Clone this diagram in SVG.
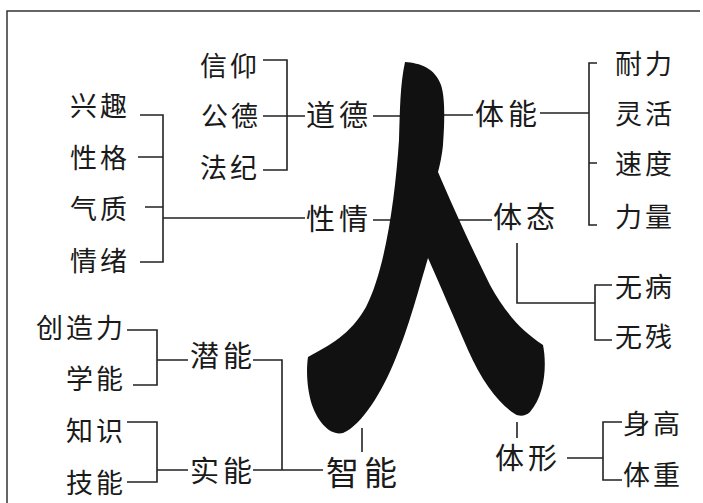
<svg xmlns="http://www.w3.org/2000/svg" width="703" height="503" viewBox="0 0 703 503">
<style>
text{font-family:"Noto Sans CJK SC","Noto Sans",sans-serif;fill:#1a1a1a}
.s{font-size:27px;letter-spacing:3px}
.m{font-size:29px;letter-spacing:4px}
.l{font-size:33px;letter-spacing:5px}
.c{fill:none;stroke:#222;stroke-width:1.6}
.frame{fill:none;stroke:#333;stroke-width:1.5}
</style>
<rect width="703" height="503" fill="#fff"/>
<path class="frame" d="M700,11 H7 V503"/>
<g id="connectors">
<path class="c" d="M263,60 H287 V170 H263 M263,116 H305 M373,116 H402"/>
<path class="c" d="M140,115 H163 V262 H140 M138,157 H163 M145,207 H163 M163,218 H305 M373,220 H394"/>
<path class="c" d="M440,115 H473 M540,113 H589 M597,63 H589 V225 H597 M589,163 H597"/>
<path class="c" d="M455,220 H492 M517,243 V303 H595 M612,285 H595 V340 H612"/>
<path class="c" d="M362,428 V452 M517,422 V438 M567,458 H603 M622,422 H603 V480 H622"/>
<path class="c" d="M127,330 H157 V385 H133 M157,360 H188 M253,360 H282 V470 M253,470 H323"/>
<path class="c" d="M127,422 H157 V482 H127 M157,470 H188"/>
</g>
<g id="ren">
<path fill="#111" d="M405,62 C420,63 435,68 441,85 C446,100 444,130 443,145 C442,155 440,165 438,172 C450,200 470,245 490,285 C505,312 520,330 543,345 C547,365 545,395 530,412 C525,417 518,416 515,414 C500,405 482,382 468,350 C455,320 440,285 428,258 C420,285 408,330 395,360 C382,392 362,425 343,433 C330,436 318,422 312,405 C307,390 306,370 308,357 C330,345 350,335 366,307 C385,270 395,200 399,140 C400,110 400,85 405,62 Z"/>
</g>
<g id="daode"><text class="m" x="306" y="126">道德</text></g>
<g id="xinyang"><text class="s" x="200" y="76">信仰</text></g>
<g id="gongde"><text class="s" x="201" y="126">公德</text></g>
<g id="faji"><text class="s" x="200" y="178">法纪</text></g>
<g id="xingqing"><text class="m" x="306" y="230">性情</text></g>
<g id="xingqu"><text class="s" x="70" y="116">兴趣</text></g>
<g id="xingge"><text class="s" x="70" y="168">性格</text></g>
<g id="qizhi"><text class="s" x="70" y="219">气质</text></g>
<g id="qingxu"><text class="s" x="70" y="271">情绪</text></g>
<g id="tineng"><text class="m" x="475" y="125">体能</text></g>
<g id="naili"><text class="s" x="615" y="74">耐力</text></g>
<g id="linghuo"><text class="s" x="615" y="124">灵活</text></g>
<g id="sudu"><text class="s" x="615" y="174">速度</text></g>
<g id="liliang"><text class="s" x="615" y="227">力量</text></g>
<g id="titai"><text class="m" x="493" y="228">体态</text></g>
<g id="wubing"><text class="s" x="615" y="297">无病</text></g>
<g id="wucan"><text class="s" x="615" y="347">无残</text></g>
<g id="tixing"><text class="m" x="495" y="469">体形</text></g>
<g id="shengao"><text class="s" x="623" y="434">身高</text></g>
<g id="tizhong"><text class="s" x="623" y="485">体重</text></g>
<g id="zhineng"><text class="l" x="326" y="485">智能</text></g>
<g id="qianneng"><text class="m" x="190" y="367">潜能</text></g>
<g id="chuangzaoli"><text class="s" x="36" y="338">创造力</text></g>
<g id="xueneng"><text class="s" x="66" y="389">学能</text></g>
<g id="shineng"><text class="m" x="190" y="482">实能</text></g>
<g id="zhishi"><text class="s" x="66" y="441">知识</text></g>
<g id="jineng"><text class="s" x="66" y="493">技能</text></g>
</svg>
